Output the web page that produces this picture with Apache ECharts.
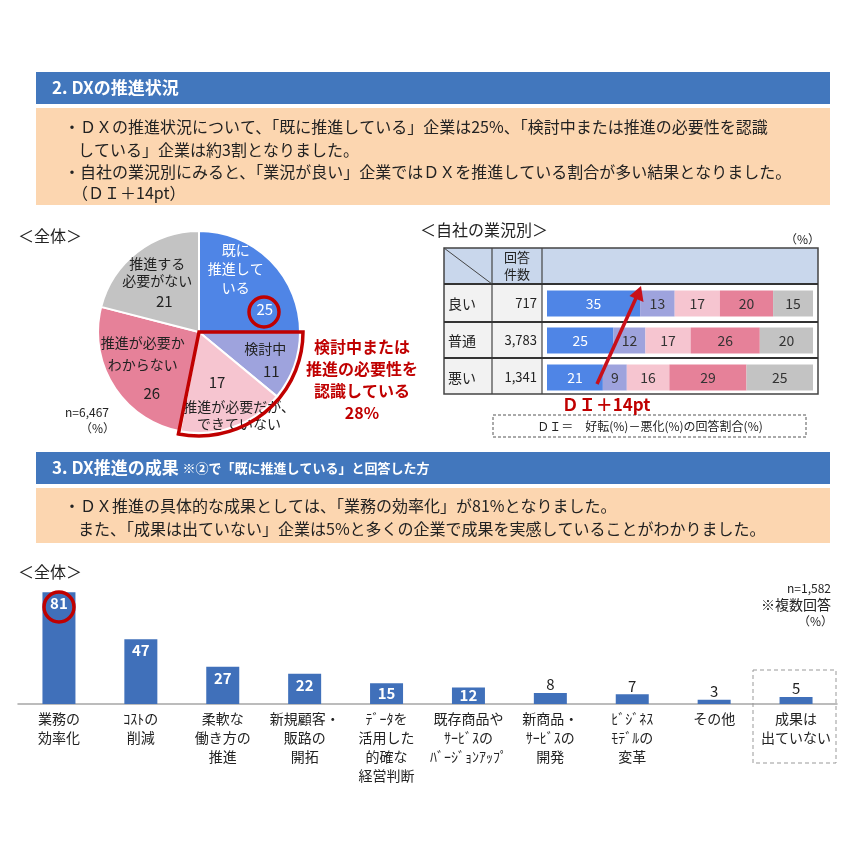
<!DOCTYPE html>
<html><head><meta charset="utf-8">
<script src="https://cdn.jsdelivr.net/npm/echarts@6/dist/echarts.min.js"></script>
<style>html,body{margin:0;padding:0;background:#fff}#c{width:856px;height:856px}</style>
</head><body><div id="c"></div>
<script>
// ---------- data ----------
const pieNames = ['既に\n推進して\nいる', '検討中', '推進が必要だが、\nできていない', '推進が必要か\nわからない', '推進する\n必要がない'];
const pieValues = [25, 11, 17, 26, 21];

const tableRows = ['良い', '普通', '悪い'];
const tableCounts = ['717', '3,783', '1,341'];
const stAlready = [35, 25, 21];
const stConsider = [13, 12, 9];
const stNeedCant = [17, 17, 16];
const stUnknown = [20, 26, 29];
const stNoNeed = [15, 20, 25];

const barCategories = ['業務の\n効率化', 'ｺｽﾄの\n削減', '柔軟な\n働き方の\n推進', '新規顧客・\n販路の\n開拓', 'ﾃﾞｰﾀを\n活用した\n的確な\n経営判断', '既存商品や\nｻｰﾋﾞｽの\nﾊﾞｰｼﾞｮﾝｱｯﾌﾟ', '新商品・\nｻｰﾋﾞｽの\n開発', 'ﾋﾞｼﾞﾈｽ\nﾓﾃﾞﾙの\n変革', 'その他', '成果は\n出ていない'];
const barValues = [81, 47, 27, 22, 15, 12, 8, 7, 3, 5];

// ---------- styles ----------
const FONT = '"Noto Sans CJK JP", "Noto Sans", sans-serif';
const BLUE_HDR = '#4277bd', ORANGE = '#fcd6b0', RED = '#c00000', DARK = '#222';
const pieColors = ['#4f85e6', '#9ea3dd', '#f6c5d0', '#e68199', '#c3c3c3'];
const BAR_BLUE = '#4070ba';

const chart = echarts.init(document.getElementById('c'), null, {renderer: 'canvas'});

function T(text, x, y, o) {
  o = o || {};
  return {type: 'text', z: o.z || 10, silent: true, style: {
    text, x, y, fill: o.fill || DARK, fontSize: o.size || 16, fontWeight: o.weight || 'normal',
    fontFamily: FONT, textAlign: o.align || 'left', textVerticalAlign: 'middle', lineHeight: o.lh, rich: o.rich
  }};
}
function R(x, y, w, h, fill, stroke, lw, dash) {
  return {type: 'rect', silent: true, z: 1, shape: {x, y, width: w, height: h},
    style: {fill: fill || 'none', stroke: stroke || 'none', lineWidth: lw || 1, lineDash: dash}};
}
function L(x1, y1, x2, y2, stroke, lw, z) {
  return {type: 'line', silent: true, z: z || 5, shape: {x1, y1, x2, y2}, style: {stroke, lineWidth: lw || 1}};
}

const g = [];
// Section 2 header + box
g.push(R(36, 72, 794, 32, BLUE_HDR));
g.push(T('2. DXの推進状況', 52, 88, {fill: '#fff', size: 17, weight: 'bold'}));
g.push(R(36, 108, 794, 97, ORANGE));
g.push(T('・ＤＸの推進状況について、「既に推進している」企業は25%、「検討中または推進の必要性を認識', 64, 127));
g.push(T('している」企業は約3割となりました。', 78, 150));
g.push(T('・自社の業況別にみると、「業況が良い」企業ではＤＸを推進している割合が多い結果となりました。', 64, 172));
g.push(T('（ＤＩ＋14pt）', 72, 193));

// pie annotations
g.push(T('＜全体＞', 18, 236, {size: 16}));
g.push(T('n=6,467', 65, 412, {size: 12}));
g.push(T('（%）', 80, 428, {size: 12}));
g.push({type: 'sector', silent: true, z: 20, shape: {cx: 199, cy: 332, r: 104, r0: 0, startAngle: 0, endAngle: 1.77, clockwise: true},
  style: {fill: 'none', stroke: RED, lineWidth: 3.5}});
g.push({type: 'circle', silent: true, z: 20, shape: {cx: 264, cy: 312, r: 15}, style: {fill: 'none', stroke: RED, lineWidth: 3.5}});
g.push(T('検討中または\n推進の必要性を\n認識している\n28%', 362, 380, {fill: RED, size: 16, weight: 'bold', align: 'center', lh: 22}));

// table
const rowTop = 285, rowH = 37;
g.push(T('＜自社の業況別＞', 420, 230, {size: 16}));
g.push(T('（%）', 820, 239, {size: 12, align: 'right'}));
g.push(R(444, 248, 374, 36, '#c9d7ec'));
g.push(R(444, 284, 98, 110, '#f2f2f2'));
g.push(R(444, 248, 374, 146, 'none', '#444', 1.5));
g.push(L(492, 248, 492, 394, '#444', 1.2));
g.push(L(542, 248, 542, 394, '#444', 1.2));
g.push(L(444, 284, 818, 284, '#333', 2));
g.push(L(444, 322, 818, 322, '#333', 2));
g.push(L(444, 358, 818, 358, '#333', 2));
g.push(L(444, 248, 492, 284, '#444', 1));
g.push(T('回答\n件数', 517, 266, {size: 13, align: 'center', lh: 17}));
tableRows.forEach((r, i) => {
  g.push(T(r, 448, rowTop + rowH * (i + 0.5), {size: 14}));
  g.push(T(tableCounts[i], 537, rowTop + rowH * (i + 0.5), {size: 13, align: 'right'}));
});

// arrow
g.push(L(597, 384, 636, 298, '#c8101a', 3.5, 30));
g.push({type: 'polygon', silent: true, z: 30, shape: {points: [[641, 286], [643.5, 302], [629.5, 296]]}, style: {fill: '#c8101a'}});
g.push(T('ＤＩ＋14pt', 606, 405, {fill: RED, size: 17, weight: 'bold', align: 'center'}));
g.push(R(493, 415, 313, 22, 'none', '#555', 1, [3, 2]));
g.push(T('ＤＩ＝　好転(%)－悪化(%)の回答割合(%)', 650, 426, {size: 12, align: 'center'}));

// Section 3 header + box
g.push(R(36, 452, 794, 32, BLUE_HDR));
g.push(T('{a|3. DX推進の成果 }{b|※②で「既に推進している」と回答した方}', 52, 468, {fill: '#fff',
  rich: {a: {fontSize: 17, fontWeight: 'bold', color: '#fff', fontFamily: FONT}, b: {fontSize: 13, fontWeight: 'bold', color: '#fff', fontFamily: FONT}}}));
g.push(R(36, 488, 794, 55, ORANGE));
g.push(T('・ＤＸ推進の具体的な成果としては、「業務の効率化」が81%となりました。', 64, 506));
g.push(T('また、「成果は出ていない」企業は5%と多くの企業で成果を実感していることがわかりました。', 78, 529));

// bar chart annotations
g.push(T('＜全体＞', 18, 572, {size: 16}));
g.push(T('n=1,582', 831, 588, {size: 12, align: 'right'}));
g.push(T('※複数回答', 831, 605, {size: 14, align: 'right'}));
g.push(T('（%）', 833, 621, {size: 12, align: 'right'}));
g.push({type: 'circle', silent: true, z: 20, shape: {cx: 59, cy: 607, r: 15}, style: {fill: 'none', stroke: RED, lineWidth: 3.5}});
g.push(R(753, 670, 83, 93, 'none', '#999', 1, [4, 3]));

// ---------- pie labels ----------
const pieLabelCfg = [
  {first: 'n', nc: '#fff', vc: '#fff', nlh: 19, vlh: 24, pad: [0, 0, 0, 58], off: [-1, -13]},
  {first: 'n', nc: DARK, vc: DARK, nlh: 22, vlh: 22, pad: [0, 0, 0, 12], off: [16, 10]},
  {first: 'v', nc: DARK, vc: DARK, nlh: 17, vlh: 32, pad: [0, 44, 0, 0], off: [22, 17]},
  {first: 'n', nc: DARK, vc: DARK, nlh: 22, vlh: 36, pad: [0, 0, 0, 18], off: [-11, 11]},
  {first: 'n', nc: DARK, vc: DARK, nlh: 17, vlh: 26, pad: [0, 0, 0, 14], off: [-9, -5]}
];
const pieData = pieValues.map((v, i) => {
  const c = pieLabelCfg[i];
  return {value: v, name: pieNames[i], itemStyle: {color: pieColors[i]},
    label: {
      formatter: p => c.first === 'n' ? `{n|${p.name}}\n{v|${p.value}}` : `{v|${p.value}}\n{n|${p.name}}`,
      rich: {
        n: {fontSize: 14, lineHeight: c.nlh, color: c.nc, fontFamily: FONT},
        v: {fontSize: 15, lineHeight: c.vlh, color: c.vc, fontFamily: FONT, padding: c.pad}
      }
    }};
});

// ---------- stacked table bars ----------
const stackSeries = [stAlready, stConsider, stNeedCant, stUnknown, stNoNeed].map((arr, i) => ({
  type: 'bar', stack: 'biz', xAxisIndex: 0, yAxisIndex: 0, barWidth: 26, data: arr, silent: true,
  itemStyle: {color: pieColors[i]},
  label: {show: true, position: 'inside', color: i === 0 ? '#fff' : '#333', fontSize: 14, fontFamily: FONT}
}));

const option = {
  animation: false,
  backgroundColor: '#fff',
  textStyle: {fontFamily: FONT},
  graphic: g,
  grid: [
    {left: 547, top: rowTop, width: 266, height: rowH * 3, containLabel: false},
    {left: 18, top: 566, width: 819, height: 138, containLabel: false}
  ],
  xAxis: [
    {gridIndex: 0, type: 'value', min: 0, max: 100, show: false},
    {gridIndex: 1, type: 'category', data: barCategories,
      axisLine: {lineStyle: {color: '#a6a6a6', width: 1.5}}, axisTick: {show: false},
      axisLabel: {interval: 0, fontSize: 14, lineHeight: 19, color: DARK, margin: 5, fontFamily: FONT}}
  ],
  yAxis: [
    {gridIndex: 0, type: 'category', data: tableRows, inverse: true, show: false},
    {gridIndex: 1, type: 'value', min: 0, max: 100, show: false}
  ],
  series: [
    {type: 'pie', center: [199, 332], radius: [0, 101], startAngle: 90, clockwise: true, silent: true,
      avoidLabelOverlap: false, minShowLabelAngle: 0,
      itemStyle: {borderColor: '#fff', borderWidth: 2},
      label: {show: true, position: 'inside'}, labelLine: {show: false},
      labelLayout: p => ({dx: pieLabelCfg[p.dataIndex].off[0], dy: pieLabelCfg[p.dataIndex].off[1]}),
      data: pieData},
    ...stackSeries,
    {type: 'bar', xAxisIndex: 1, yAxisIndex: 1, barWidth: 33, silent: true, itemStyle: {color: BAR_BLUE},
      data: barValues.map(v => ({value: v, label: v >= 20
        ? {show: true, position: 'insideTop', distance: 4, color: '#fff', fontWeight: 'bold', fontSize: 15}
        : v >= 10
          ? {show: true, position: 'inside', color: '#fff', fontWeight: 'bold', fontSize: 15}
          : {show: true, position: 'top', distance: 1, color: DARK, fontSize: 15}}))}
  ]
};
chart.setOption(option);
</script></body></html>
